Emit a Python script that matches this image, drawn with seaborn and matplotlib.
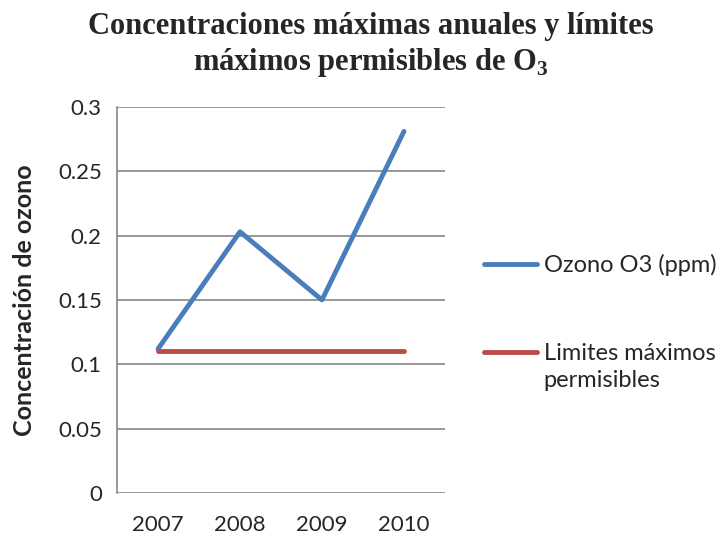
import matplotlib
matplotlib.use("Agg")
import matplotlib.pyplot as plt
import seaborn as sns
import pandas as pd
from matplotlib.lines import Line2D

years = ["2007", "2008", "2009", "2010"]
ozono = [0.112, 0.203, 0.150, 0.281]
limites = [0.11, 0.11, 0.11, 0.11]
yticks = [0, 0.05, 0.1, 0.15, 0.2, 0.25, 0.3]
ytick_labels = ["0", "0.05", "0.1", "0.15", "0.2", "0.25", "0.3"]

blue = "#4a7ebb"
red = "#be4b48"
grid_grey = "#868686"

sns.set_style("white")
plt.rcParams["font.family"] = ["Lato", "DejaVu Sans"]
plt.rcParams["mathtext.fontset"] = "custom"
plt.rcParams["mathtext.bf"] = "Liberation Serif:bold"
plt.rcParams["mathtext.rm"] = "Liberation Serif:bold"

df = pd.DataFrame({
    "year": years * 2,
    "value": ozono + limites,
    "serie": ["Ozono O3 (ppm)"] * 4 + ["Limites máximos"] * 4,
})

fig = plt.figure(figsize=(7.27, 5.4), dpi=100)
ax = fig.add_axes([0.161, 0.087, 0.451, 0.715])

sns.lineplot(data=df, x="year", y="value", hue="serie",
             palette=[blue, red], linewidth=3.5, ax=ax, legend=False,
             sort=False)
for ln in ax.lines:
    ln.set_solid_capstyle("round")
    ln.set_solid_joinstyle("round")

ax.set_xlim(-0.5, 3.5)
ax.set_ylim(0, 0.3)
ax.set_yticks(yticks)
ax.set_yticklabels(ytick_labels)
ax.yaxis.grid(True, color=grid_grey, linewidth=1.2)
ax.set_axisbelow(True)
for s in ["top", "right", "bottom"]:
    ax.spines[s].set_visible(False)
ax.spines["left"].set_color(grid_grey)
ax.spines["left"].set_linewidth(1.2)
ax.tick_params(axis="both", length=0, labelsize=16)
ax.tick_params(axis="x", pad=16)
ax.tick_params(axis="y", pad=11)
ax.set_xlabel("")
ax.set_ylabel("Concentración de ozono", fontsize=18, fontweight="bold",
              labelpad=16)

fig.suptitle("Concentraciones máximas anuales y límites\nmáximos permisibles de O$_3$",
             x=0.51, y=0.978, fontsize=22, fontweight="bold",
             family="Liberation Serif", linespacing=1.2)

handles = [Line2D([], [], color=blue, linewidth=3.5, solid_capstyle="round"),
           Line2D([], [], color=red, linewidth=3.5, solid_capstyle="round")]
leg = fig.legend(handles, ["Ozono O3 (ppm)", "Limites máximos"],
                 loc="upper left", bbox_to_anchor=(0.666, 0.530),
                 frameon=False, fontsize=17, handlelength=2.25,
                 handletextpad=0.3, labelspacing=2.84, borderaxespad=0,
                 borderpad=0)
fig.text(0.748, 0.296, "permisibles", fontsize=17, va="center", ha="left")

fig.savefig("out.png", dpi=100)
